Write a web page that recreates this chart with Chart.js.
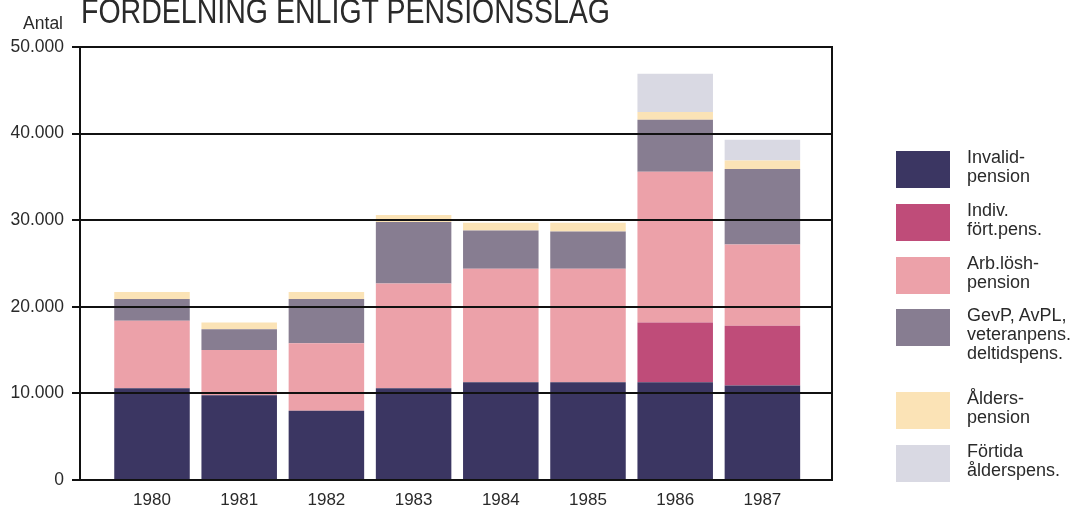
<!DOCTYPE html>
<html lang="sv">
<head>
<meta charset="utf-8">
<title>Fördelning enligt pensionsslag</title>
<script src="https://cdn.jsdelivr.net/npm/chart.js@4.4.1/dist/chart.umd.min.js"></script>
<style>
  html, body { margin: 0; padding: 0; background: #fff; overflow: hidden; }
  #wrap { position: relative; width: 1079px; height: 510px; font-family: "Liberation Sans", Arial, sans-serif; color: #2a2a2a; }
  #chart { position: absolute; left: 0; top: 0; }
  #title { position: absolute; left: 81px; top: -7px; font-size: 35px; line-height: 35px; white-space: nowrap; transform-origin: 0 0; letter-spacing: 0; }
  #antal { position: absolute; right: 1016px; top: 13px; font-size: 17.5px; line-height: 20px; }
  .leg { position: absolute; left: 896px; width: 54px; height: 37px; }
  .legtxt { position: absolute; left: 967px; font-size: 18px; line-height: 19px; white-space: nowrap; }
</style>
</head>
<body>
<div id="wrap">
  <canvas id="chart" width="1079" height="510"></canvas>
  <div id="title"><span id="titleText">FÖRDELNING ENLIGT PENSIONSSLAG</span></div>
  <div id="antal">Antal</div>
  <div id="legend"></div>
</div>
<script>
/* DATA */
const years = ['1980', '1981', '1982', '1983', '1984', '1985', '1986', '1987'];
const invalid  = [10600, 9800, 8000, 10600, 11300, 11300, 11300, 10900];
const indiv    = [0, 0, 0, 0, 0, 0, 6900, 6900];
const arbLosh  = [7800, 5200, 7800, 12100, 13100, 13100, 17400, 9400];
const gevp     = [2500, 2400, 5100, 7100, 4400, 4300, 6000, 8700];
const alders   = [800, 800, 800, 800, 900, 1000, 900, 1000];
const fortida  = [0, 0, 0, 0, 0, 0, 4400, 2400];
const yTicks   = [0, 10000, 20000, 30000, 40000, 50000];

const seriesLabels = [
    ['Invalid-', 'pension'],
    ['Indiv.', 'fört.pens.'],
    ['Arb.lösh-', 'pension'],
    ['GevP, AvPL,', 'veteranpens.', 'deltidspens.'],
    ['Ålders-', 'pension'],
    ['Förtida', 'ålderspens.']
];
const colors = ['#3b3662', '#bf4c79', '#eca1a9', '#877d91', '#fbe3b6', '#d9d9e3'];
const legendTops = [151, 204, 257, 309, 392, 445];

function fmt(v) {
    return String(v).replace(/\B(?=(\d{3})+(?!\d))/g, '.');
}

// titel: smalare typsnitt simuleras med scaleX
const tt = document.getElementById('titleText');
const tw = tt.getBoundingClientRect().width;
document.getElementById('title').style.transform = 'scaleX(' + (529 / tw) + ')';

// legend
const legend = document.getElementById('legend');
seriesLabels.forEach((lines, i) => {
    const sw = document.createElement('div');
    sw.className = 'leg';
    sw.style.top = legendTops[i] + 'px';
    sw.style.background = colors[i];
    legend.appendChild(sw);
    const tx = document.createElement('div');
    tx.className = 'legtxt';
    tx.style.top = (legendTops[i] - 3) + 'px';
    tx.innerHTML = lines.join('<br>');
    legend.appendChild(tx);
});

// ram och stödlinjer ovanpå staplarna
const framePlugin = {
    id: 'frame',
    afterDatasetsDraw(chart) {
        const c = chart.ctx;
        const y = chart.scales.y;
        const left = 80, right = 832, tickLeft = 72;
        c.save();
        c.strokeStyle = '#111';
        c.lineWidth = 2;
        yTicks.forEach(v => {
            const py = Math.round(y.getPixelForValue(v));
            c.beginPath();
            c.moveTo(tickLeft, py);
            c.lineTo(right + 1, py);
            c.stroke();
        });
        const top = y.getPixelForValue(50000), bottom = y.getPixelForValue(0);
        [left, right].forEach(px => {
            c.beginPath();
            c.moveTo(px, top);
            c.lineTo(px, bottom);
            c.stroke();
        });
        c.restore();
    }
};

const datasetsData = [invalid, indiv, arbLosh, gevp, alders, fortida];
new Chart(document.getElementById('chart').getContext('2d'), {
    type: 'bar',
    data: {
        labels: years,
        datasets: datasetsData.map((d, i) => ({
            label: seriesLabels[i].join(' '),
            data: d,
            backgroundColor: colors[i],
            borderWidth: 0,
            barPercentage: 0.866,
            categoryPercentage: 1
        }))
    },
    options: {
        responsive: false,
        animation: false,
        layout: { padding: { top: 47, right: 273, left: 0, bottom: 0 } },
        plugins: {
            legend: { display: false },
            tooltip: { enabled: false }
        },
        scales: {
            x: {
                stacked: true,
                grid: { display: false, drawTicks: false },
                border: { display: false },
                ticks: {
                    color: '#2a2a2a',
                    padding: 10,
                    font: { family: 'Liberation Sans', size: 17 }
                },
                afterFit(s) { s.height = 30; }
            },
            y: {
                stacked: true,
                min: 0,
                max: 50000,
                grid: { display: false, drawTicks: true, tickLength: 44.4 },
                border: { display: false },
                afterBuildTicks(s) { s.ticks = yTicks.map(v => ({ value: v })); },
                ticks: {
                    color: '#2a2a2a',
                    padding: 0,
                    font: { family: 'Liberation Sans', size: 17.5 },
                    callback: v => fmt(v)
                },
                afterFit(s) { s.width = 108.4; }
            }
        }
    },
    plugins: [framePlugin]
});
</script>
</body>
</html>
